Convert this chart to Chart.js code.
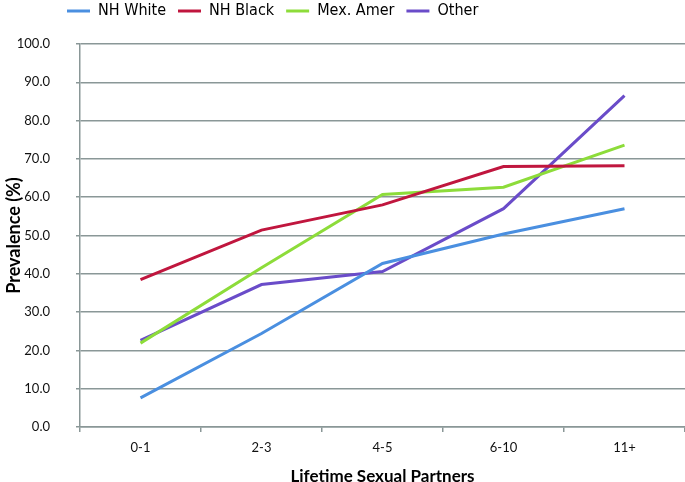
<!DOCTYPE html>
<html>
<head>
<meta charset="utf-8">
<script src="https://cdn.jsdelivr.net/npm/chart.js@4"></script>
<style>
  html, body { margin: 0; padding: 0; background: #fff; }
  #wrap { width: 685px; height: 482px; }
</style>
</head>
<body>
<div id="wrap"><canvas id="grafico"></canvas></div>
<script>
// categorias y series
var categorias = ['0-1', '2-3', '4-5', '6-10', '11+'];
var nhWhite = [7.6, 24.4, 42.7, 50.4, 57.0];
var nhBlack = [38.5, 51.4, 58.0, 68.0, 68.2];
var mexAmer = [21.9, 41.6, 60.7, 62.6, 73.6];
var otros = [22.6, 37.2, 40.6, 57.0, 86.5];

var gris = '#8a9797';

// mover la leyenda arriba a la izquierda como en el original
var leyendaPos = {
    id: 'leyendaPos',
    afterLayout: function (chart) {
        chart.legend.left = 55;
        chart.legend.top = -9;
    }
};

var ctx = document.getElementById('grafico').getContext('2d');
new Chart(ctx, {
    type: 'line',
    data: {
        labels: categorias,
        datasets: [
            { label: 'NH White', data: nhWhite, borderColor: '#4a8fe0', backgroundColor: '#4a8fe0', borderWidth: 3 },
            { label: 'NH Black', data: nhBlack, borderColor: '#c0163e', backgroundColor: '#c0163e', borderWidth: 3 },
            { label: 'Mex. Amer', data: mexAmer, borderColor: '#8ddc3a', backgroundColor: '#8ddc3a', borderWidth: 3 },
            { label: 'Other', data: otros, borderColor: '#6a4cc9', backgroundColor: '#6a4cc9', borderWidth: 3 }
        ]
    },
    options: {
        responsive: true,
        maintainAspectRatio: false,
        animation: false,
        elements: {
            line: { borderWidth: 3, tension: 0 },
            point: { radius: 0 }
        },
        layout: { padding: { top: 6, right: 0, bottom: 0, left: 0 } },
        plugins: {
            legend: {
                position: 'top',
                align: 'start',
                labels: {
                    usePointStyle: true,
                    pointStyle: 'line',
                    pointStyleWidth: 23,
                    boxHeight: 3,
                    padding: 12,
                    color: '#000',
                    font: { family: "'DejaVu Sans Condensed', 'Liberation Sans Narrow', Roboto", size: 16 }
                }
            },
            tooltip: { enabled: false }
        },
        scales: {
            x: {
                offset: true,
                border: { color: gris, width: 1.5 },
                grid: {
                    offset: true,
                    drawOnChartArea: false,
                    drawTicks: true,
                    tickLength: 5,
                    color: gris,
                    lineWidth: 1.5
                },
                ticks: {
                    padding: 8,
                    color: '#111',
                    font: { family: 'Lato', size: 13 }
                },
                title: {
                    display: true,
                    text: 'Lifetime Sexual Partners',
                    color: '#000',
                    padding: { top: 0, bottom: -3 },
                    font: { family: 'Lato', size: 17, weight: 'bold', lineHeight: 1 }
                },
                afterFit: function (scale) { scale.height = 55; }
            },
            y: {
                min: 0,
                max: 100,
                border: { color: gris, width: 1.5 },
                grid: {
                    color: gris,
                    lineWidth: 1.5,
                    tickLength: 4
                },
                ticks: {
                    stepSize: 10,
                    padding: 26,
                    color: '#111',
                    font: { family: 'Lato', size: 13 },
                    callback: function (v) { return v.toFixed(1); }
                },
                title: {
                    display: true,
                    text: 'Prevalence (%)',
                    color: '#000',
                    padding: { top: 5, bottom: 0 },
                    font: { family: 'Lato', size: 18, weight: 'bold', lineHeight: 1 }
                },
                afterFit: function (scale) { scale.width = 80; }
            }
        }
    },
    plugins: [leyendaPos]
});
</script>
</body>
</html>
